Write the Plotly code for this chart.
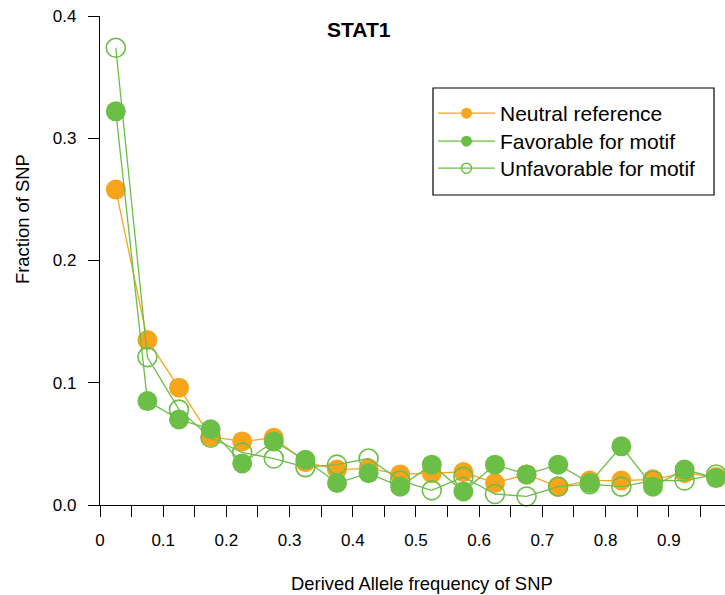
import plotly.graph_objects as go

freq = [0.025, 0.075, 0.125, 0.175, 0.225, 0.275, 0.325, 0.375, 0.425, 0.475,
        0.525, 0.575, 0.625, 0.675, 0.725, 0.775, 0.825, 0.875, 0.925, 0.975]
neutral = [0.258, 0.135, 0.096, 0.056, 0.052, 0.055, 0.035, 0.029, 0.030, 0.025,
           0.026, 0.027, 0.018, 0.025, 0.015, 0.020, 0.020, 0.021, 0.026, 0.023]
favorable = [0.322, 0.085, 0.070, 0.062, 0.034, 0.052, 0.037, 0.018, 0.026, 0.015,
             0.033, 0.011, 0.033, 0.025, 0.033, 0.018, 0.048, 0.015, 0.029, 0.022]
unfavorable = [0.374, 0.121, 0.078, 0.055, 0.043, 0.038, 0.031, 0.033, 0.038, 0.020,
               0.012, 0.023, 0.009, 0.007, 0.015, 0.017, 0.015, 0.020, 0.020, 0.025]

names = ["Neutral reference", "Favorable for motif", "Unfavorable for motif"]
x_tickvals = [round(0.05 * i, 2) for i in range(20)]
x_ticktext = [("0" if i == 0 else f"{0.05*i:.1f}") if i % 2 == 0 else "" for i in range(20)]
y_tickvals = [0.0, 0.1, 0.2, 0.3, 0.4]
y_ticktext = ["0.0", "0.1", "0.2", "0.3", "0.4"]

ORANGE = "#F8A51E"
GREEN = "#6BBE46"
FONT = "Liberation Sans, Arial, Helvetica, sans-serif"

# plot area in pixels: x 100..725, y 16..505
def px(xp):
    return (xp - 100) / 625

def py(yp):
    return (505 - yp) / 489

fig = go.Figure()
fig.add_trace(go.Scatter(x=freq, y=neutral, name=names[0], mode="lines+markers",
                         line=dict(color=ORANGE, width=1.3),
                         marker=dict(color=ORANGE, size=20, symbol="circle"),
                         cliponaxis=False, showlegend=False))
fig.add_trace(go.Scatter(x=freq, y=unfavorable, name=names[2], mode="lines+markers",
                         line=dict(color=GREEN, width=1.3),
                         marker=dict(color=GREEN, size=19, symbol="circle-open",
                                     line=dict(width=1.6, color=GREEN)),
                         cliponaxis=False, showlegend=False))
fig.add_trace(go.Scatter(x=freq, y=favorable, name=names[1], mode="lines+markers",
                         line=dict(color=GREEN, width=1.3),
                         marker=dict(color=GREEN, size=20, symbol="circle"),
                         cliponaxis=False, showlegend=False))

# legend entries (smaller glyphs, as in the reference)
fig.add_trace(go.Scatter(x=[None], y=[None], name=names[0], mode="lines+markers",
                         line=dict(color=ORANGE, width=1.3),
                         marker=dict(color=ORANGE, size=11, symbol="circle"),
                         legend="legend"))
fig.add_trace(go.Scatter(x=[None], y=[None], name=names[1], mode="lines+markers",
                         line=dict(color=GREEN, width=1.3),
                         marker=dict(color=GREEN, size=11, symbol="circle"),
                         legend="legend2"))
fig.add_trace(go.Scatter(x=[None], y=[None], name=names[2], mode="lines+markers",
                         line=dict(color=GREEN, width=1.3),
                         marker=dict(color=GREEN, size=10, symbol="circle-open",
                                     line=dict(width=1.5, color=GREEN)),
                         legend="legend3"))

leg_common = dict(xanchor="left", yanchor="top", borderwidth=0,
                  bgcolor="rgba(0,0,0,0)", font=dict(size=21),
                  itemwidth=57, tracegroupgap=0)

fig.update_layout(
    width=725, height=595,
    margin=dict(l=100, r=0, t=16, b=90),
    paper_bgcolor="white", plot_bgcolor="white",
    font=dict(family=FONT, size=17, color="black"),
    showlegend=True,
    legend=dict(x=px(433), y=py(93), **leg_common),
    legend2=dict(x=px(433), y=py(121), **leg_common),
    legend3=dict(x=px(433), y=py(148), **leg_common),
    xaxis=dict(range=[0, 0.989], showgrid=False, zeroline=False,
               showline=True, linecolor="black", linewidth=1.3,
               ticks="outside", ticklen=11, tickwidth=1.3, tickcolor="black",
               tickmode="array", tickvals=x_tickvals, ticktext=x_ticktext,
               ticklabelstandoff=8, tickfont=dict(size=17)),
    yaxis=dict(range=[0, 0.4], showgrid=False, zeroline=False,
               showline=True, linecolor="black", linewidth=1.3,
               ticks="outside", ticklen=11, tickwidth=1.3, tickcolor="black",
               tickmode="array", tickvals=y_tickvals, ticktext=y_ticktext,
               ticklabelstandoff=8, tickfont=dict(size=17)),
    shapes=[
        dict(type="rect", xref="paper", yref="paper",
             x0=px(433), x1=px(714), y0=py(195), y1=py(88),
             line=dict(color="black", width=1.2), fillcolor="rgba(0,0,0,0)",
             layer="above"),
    ],
    annotations=[
        dict(text="<b>STAT1</b>", xref="paper", yref="paper",
             x=px(359), y=py(29), showarrow=False,
             xanchor="center", yanchor="middle", font=dict(size=21)),
        dict(text="Derived Allele frequency of SNP", xref="paper", yref="paper",
             x=px(422), y=py(583), showarrow=False,
             xanchor="center", yanchor="middle", font=dict(size=18.4)),
        dict(text="Fraction of SNP", xref="paper", yref="paper",
             x=px(22), y=py(219), showarrow=False,
             textangle=-90, xanchor="center", yanchor="middle", font=dict(size=18.4)),
    ],
)

fig.write_html("out.html")
